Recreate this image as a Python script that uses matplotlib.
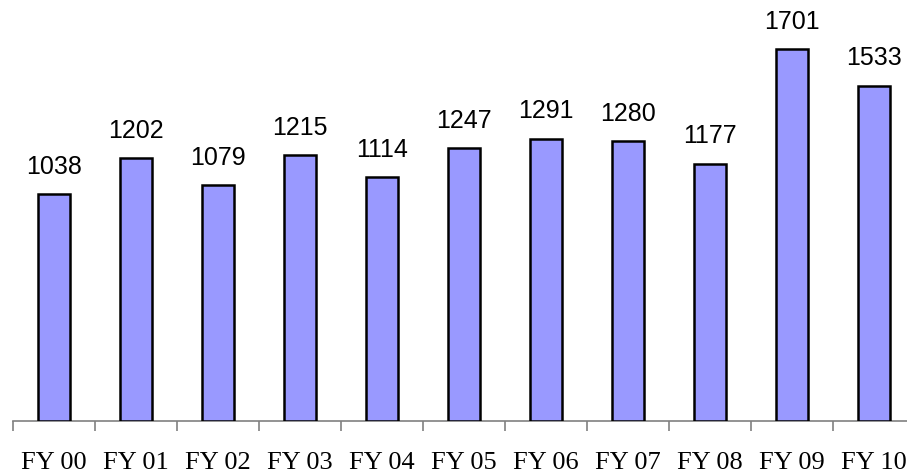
import matplotlib
matplotlib.use("Agg")
import matplotlib.pyplot as plt
import numpy as np

# данные с графика
years = ["FY 00", "FY 01", "FY 02", "FY 03", "FY 04", "FY 05",
         "FY 06", "FY 07", "FY 08", "FY 09", "FY 10"]
values = [1038, 1202, 1079, 1215, 1114, 1247, 1291, 1280, 1177, 1701, 1533]

W, H = 907, 474
fig = plt.figure(figsize=(W / 100, H / 100), dpi=100)

# область графика в пикселях: ось x от 13 до ~915, низ на 421
left, right, bottom, top = 13, 915, 421, 0
ax = fig.add_axes([left / W, (H - bottom) / H, (right - left) / W, (bottom - top) / H])

x = np.arange(len(years))
ax.bar(x, values, width=0.4, color="#9999FF", edgecolor="black", linewidth=1.8, zorder=3)

for xi, v in zip(x, values):
    ax.annotate(str(v), (xi, v), xytext=(0, 11), textcoords="offset points",
                ha="center", va="bottom", fontsize=18, family="Liberation Sans")

ax.set_xlim(-0.5, len(years) - 0.5)
ax.set_ylim(0, 421 / (372 / 1701))

for s in ["top", "right", "left"]:
    ax.spines[s].set_visible(False)
ax.spines["bottom"].set_color("#808080")
ax.spines["bottom"].set_linewidth(1.2)
ax.set_yticks([])

# подписи по центру, засечки между категориями
ax.set_xticks(x)
ax.set_xticklabels(years, fontsize=19, family="Liberation Serif")
ax.tick_params(axis="x", which="major", length=0, pad=22)
ax.set_xticks(np.arange(-0.5, len(years)), minor=True)
ax.tick_params(axis="x", which="minor", length=7, width=1.2, color="#808080")

fig.savefig("out.png", dpi=100)
